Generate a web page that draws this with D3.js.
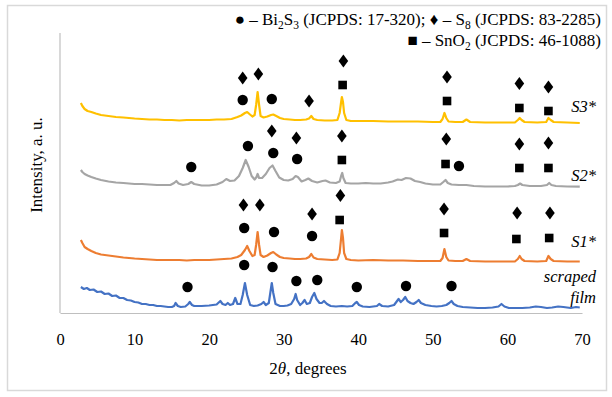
<!DOCTYPE html>
<html>
<head>
<meta charset="utf-8">
<script src="https://cdn.jsdelivr.net/npm/d3@7"></script>
<style>
  body { margin: 0; background: #fff; }
  svg text { font-family: "Liberation Serif", "Times New Roman", serif; fill: #000; }
</style>
</head>
<body>
<div id="graphicContainer"></div>
<script>

// XRD patterns, [2theta (deg), intensity (a.u.)]
const scrapedFilm = [[2.8,26],[3.2,24],[3.6,25],[4,23],[4.5,23.5],[5,21],[5.5,21.5],[6,19],[6.5,19.5],[7,17],[7.5,17.5],[8,15],[8.5,15],[9,13],[9.5,12.5],[10,11],[10.5,10.5],[11,9],[11.5,9],[12,8],[12.5,8],[13,7],[13.5,7],[14,6.5],[14.5,6],[15,6],[15.3,7],[15.5,10],[15.8,7],[16.2,6],[16.8,6.5],[17.2,9],[17.4,11],[17.7,8],[18,7],[19,7],[20,7.5],[20.5,8],[21,8.5],[21.5,12],[21.8,9],[22.2,8],[22.5,10],[22.8,8],[23.2,9],[23.5,15],[23.8,9],[24.2,9],[24.5,18],[24.8,30],[25.1,18],[25.5,8],[26,7],[26.5,7.5],[27,9],[27.3,11],[27.6,8],[28,10],[28.2,20],[28.4,30],[28.6,20],[28.9,9],[29.5,7],[30,7],[30.5,7.5],[31,9],[31.4,14],[31.6,19],[31.8,13],[32.2,8],[32.5,10],[32.8,13],[33.1,9],[33.5,10],[33.8,16],[34.1,20],[34.4,14],[34.8,10],[35.1,10],[35.4,12],[35.8,9],[36.3,7],[37,6.5],[37.8,7],[38.5,6.5],[39.2,7],[39.6,10],[39.8,11],[40.1,8],[40.6,6.5],[41.5,6],[42.5,7],[42.8,9],[43.2,7],[44,6.5],[44.8,8],[45.2,12],[45.4,14],[45.7,11],[46,13],[46.3,16],[46.6,12],[47,10],[47.4,9],[47.8,11],[48.1,13],[48.4,10],[49,8],[49.8,7],[50.5,6.5],[51.2,7],[51.8,8],[52.2,10],[52.5,12],[52.8,9],[53.3,7],[54,6],[55,5.5],[56,5],[57,5],[58,5.5],[58.8,6.5],[59.2,9],[59.6,6.5],[60.2,5],[61,5],[62,5],[63,5.5],[63.8,6.5],[64.5,6],[65.3,5],[66,5.5],[66.8,6.5],[67.5,6],[68.5,5],[69.2,6],[69.7,5.5]]

const sampleS1 = [[2.8,73],[3.0,70],[3.3,66],[3.7,64],[4.2,62],[4.8,60],[5.5,58.5],[6.5,57.5],[7.5,56.5],[8.5,55.5],[10,54.5],[11,54],[12,53.5],[13,53],[14,53],[15,53],[16,53],[17,52.5],[18,53],[19,53],[20,53],[21,53.5],[22,54],[23,54.5],[23.8,56],[24.3,58],[24.8,63],[25.1,67],[25.4,62],[25.8,57],[26.1,58],[26.3,68],[26.5,81],[26.7,68],[26.9,58],[27.3,56],[27.8,57.5],[28.3,60],[28.6,61],[29,58.5],[29.5,56],[30,55],[30.8,54.5],[31.5,54],[32.2,54],[33,54.5],[33.4,56],[33.7,59],[34,55.5],[34.5,54],[35.5,53.5],[36.5,53],[37.2,53.5],[37.5,60],[37.7,75],[37.8,83],[37.95,75],[38.1,60],[38.4,54],[39,53],[40,52.5],[42,53],[44,52.5],[46,52.5],[48,52],[50,52],[51,52],[51.3,55],[51.55,64],[51.8,56],[52.1,52.5],[53,52],[54,52],[54.5,54],[55,52],[57,51.5],[59,51.5],[61,51.5],[61.4,54],[61.65,57],[61.9,54],[62.3,52],[64,51.5],[65.2,52],[65.5,57],[65.8,54],[66.2,52],[68,51.5],[69.7,51.5]]

const sampleS2 = [[2.8,143],[3.0,141],[3.3,139],[3.7,137.5],[4.2,136],[4.8,134.5],[5.5,133],[6.5,131.5],[7.5,130.5],[8.5,130],[10,129],[11,129],[12,128.5],[13,128],[14,128],[14.8,128],[15.3,130],[15.6,132],[15.9,129.5],[16.5,128],[17.2,129],[17.6,131],[18,129],[19,127.5],[20,127.5],[21,128.5],[21.8,131],[22.3,134],[22.8,132],[23.4,132.5],[24,137],[24.5,145],[24.9,153],[25.3,146],[25.7,137],[26.1,133.5],[26.35,136],[26.5,139],[26.7,135],[27.1,135],[27.6,139],[28.1,145],[28.5,147.5],[28.9,142],[29.4,135.5],[30,133],[30.6,132.5],[31.2,134],[31.6,137],[31.9,136],[32.4,131.5],[32.9,133],[33.3,134.5],[33.8,132],[34.5,130.5],[35.2,132],[35.6,132.5],[36.2,130.5],[37,130],[37.5,131.5],[37.7,137],[37.85,140],[38,135],[38.3,130],[39,129.5],[40,129.5],[41,130],[42,129.5],[43,129.5],[44,130.5],[44.6,131.5],[45.3,133.5],[45.8,133],[46.4,135],[47,134.5],[47.6,132],[48.3,131],[49,129.5],[50,128.5],[51,128.5],[51.4,131],[51.7,133],[52,130],[52.5,128.5],[53.5,128],[54.5,128],[55.5,127],[57,126.5],[58.5,126.5],[60,126.5],[61,127],[61.4,128],[61.7,129.5],[62,128],[63,127],[64.5,127],[65.3,128],[65.6,130],[65.9,128],[66.5,127],[68,126.5],[69.7,126.3]]

const sampleS3 = [[2.8,210],[3.0,207],[3.3,204],[3.7,202],[4.2,201],[4.8,199.5],[5.5,198],[6.5,197],[7.5,196],[8.5,195.5],[10,194.5],[11,194],[12,193.5],[13,193.5],[14,193],[15,193],[16,192.5],[17,193],[18,193],[19,193],[20,193],[21,193.5],[22,193.5],[23,194],[23.8,196],[24.3,197.5],[24.8,200],[25.1,201],[25.4,199],[25.8,196.5],[26.1,198],[26.3,208],[26.5,221],[26.7,208],[26.9,197],[27.3,195.5],[27.8,196.5],[28.3,198],[28.6,198.5],[29,197],[29.5,195],[30,194],[30.8,193.5],[31.5,193],[32.2,193],[33,193.5],[33.4,194.5],[33.7,197],[34,194],[34.5,193],[35.5,192.5],[36.5,192.5],[37.2,193],[37.5,200],[37.7,211],[37.8,216],[37.95,211],[38.1,200],[38.4,193],[39,192],[40,192],[42,192],[44,191.5],[46,191.5],[48,191.5],[50,191],[51,191],[51.3,194],[51.55,200],[51.8,195],[52.1,191.5],[53,191],[54,191],[54.5,193.5],[55,191],[57,190.5],[59,190.5],[61,190.5],[61.4,193],[61.65,195],[61.9,193],[62.3,191],[64,190.5],[65.2,191],[65.5,195],[65.8,193],[66.2,191],[68,190.5],[69.7,190]]

// phase markers, [2theta, height (a.u.)]
const bi2s3Marks = [[24.5,213],[28.4,214],[17.6,146],[25.2,167],[28.6,160],[31.8,154],[53.5,147],[24.7,85],[28.7,81],[33.8,77],[17.1,26],[24.7,48],[28.5,46],[31.7,32],[34.5,33],[39.8,26],[46.4,27],[52.5,27]]
const s8Marks = [[24.5,235],[26.6,239],[33.4,212],[38.0,252],[51.9,236],[61.6,229.5],[65.5,226],[28.4,182],[31.7,175],[37.8,177],[51.8,174],[61.6,169],[65.5,170],[24.6,108],[26.8,108],[33.8,99],[37.6,117.5],[51.5,104],[61.3,100],[65.7,100]]
const sno2Marks = [[37.9,228],[51.9,212],[61.6,205],[65.5,202],[37.8,153],[51.7,149],[61.6,145],[65.5,145],[37.5,93],[51.5,80],[61.2,74],[65.6,75]]

const xTickValues = [0, 10, 20, 30, 40, 50, 60, 70]

const seriesList = [
  { name: "scraped film", values: scrapedFilm, color: "#4472c4" },
  { name: "S1*", values: sampleS1, color: "#ed7d31" },
  { name: "S2*", values: sampleS2, color: "#a5a5a5" },
  { name: "S3*", values: sampleS3, color: "#ffc000" }
]

const svgWidth = 612
const svgHeight = 397
const marginleft = 60
const marginright = 30
const margintop = 33
const marginbottom = 84

const svg = d3.select("#graphicContainer")
  .append("svg")
  .attr("width", svgWidth)
  .attr("height", svgHeight)

// outer frame
svg.append("rect")
  .attr("x", 7.5)
  .attr("y", 5.5)
  .attr("width", 599)
  .attr("height", 385)
  .attr("fill", "none")
  .attr("stroke", "#d9d9d9")
  .attr("stroke-width", 1.5)

const x = d3.scaleLinear()
  .domain([0, 70])
  .range([marginleft, svgWidth - marginright])

const y = d3.scaleLinear()
  .domain([0, 280])
  .range([svgHeight - marginbottom, margintop])

const xAxis = g => g
  .attr("transform", `translate(0,${svgHeight - marginbottom})`)
  .call(d3.axisBottom(x).tickValues(xTickValues).tickSize(0).tickPadding(20).tickFormat(d3.format("d")))
  .call(g => g.select(".domain").attr("stroke", "#bfbfbf").attr("stroke-width", 1.2))
  .call(g => g.selectAll("text").attr("font-size", 16.5).attr("font-family", "Liberation Serif"))

svg.append("g").call(xAxis)

svg.append("line")
  .attr("x1", x(0))
  .attr("x2", x(0))
  .attr("y1", y(280))
  .attr("y2", y(0))
  .attr("stroke", "#bfbfbf")
  .attr("stroke-width", 1.2)

const line = d3.line()
  .x(d => x(d[0]))
  .y(d => y(d[1]))

svg.selectAll(".xrd")
  .data(seriesList)
  .enter()
  .append("path")
  .attr("class", "xrd")
  .attr("d", d => line(d.values))
  .attr("fill", "none")
  .attr("stroke", d => d.color)
  .attr("stroke-width", 2.2)
  .attr("stroke-linejoin", "round")

// markers
svg.selectAll(".bi2s3")
  .data(bi2s3Marks)
  .enter()
  .append("circle")
  .attr("cx", d => x(d[0]))
  .attr("cy", d => y(d[1]))
  .attr("r", 5.2)
  .attr("fill", "#000")

svg.selectAll(".s8")
  .data(s8Marks)
  .enter()
  .append("path")
  .attr("transform", d => `translate(${x(d[0])},${y(d[1])})`)
  .attr("d", "M0,-6.5L4.8,0L0,6.5L-4.8,0Z")
  .attr("fill", "#000")

svg.selectAll(".sno2")
  .data(sno2Marks)
  .enter()
  .append("rect")
  .attr("x", d => x(d[0]) - 4.3)
  .attr("y", d => y(d[1]) - 4.3)
  .attr("width", 8.6)
  .attr("height", 8.6)
  .attr("fill", "#000")

// series labels
const seriesLabels = [
  { text: "S3*", y: 112 },
  { text: "S2*", y: 181 },
  { text: "S1*", y: 247 },
  { text: "scraped", y: 282 },
  { text: "film", y: 303 }
]

svg.selectAll(".seriesLabel")
  .data(seriesLabels)
  .enter()
  .append("text")
  .attr("x", 596)
  .attr("y", d => d.y)
  .attr("text-anchor", "end")
  .attr("font-size", 16.5)
  .attr("font-style", "italic")
  .text(d => d.text)

// legend
const legend1 = svg.append("text")
  .attr("x", 601)
  .attr("y", 25)
  .attr("text-anchor", "end")
  .attr("font-size", 17)

legend1.append("tspan").text("● – Bi")
legend1.append("tspan").attr("font-size", 11.5).attr("dy", 4).text("2")
legend1.append("tspan").attr("dy", -4).text("S")
legend1.append("tspan").attr("font-size", 11.5).attr("dy", 4).text("3")
legend1.append("tspan").attr("dy", -4).text(" (JCPDS: 17-320); ♦ – S")
legend1.append("tspan").attr("font-size", 11.5).attr("dy", 4).text("8")
legend1.append("tspan").attr("dy", -4).text(" (JCPDS: 83-2285)")

const legend2 = svg.append("text")
  .attr("x", 601)
  .attr("y", 46)
  .attr("text-anchor", "end")
  .attr("font-size", 17)

legend2.append("tspan").text("■ – SnO")
legend2.append("tspan").attr("font-size", 11.5).attr("dy", 4).text("2")
legend2.append("tspan").attr("dy", -4).text(" (JCPDS: 46-1088)")

// axis titles
const xTitle = svg.append("text")
  .attr("x", 308)
  .attr("y", 374)
  .attr("text-anchor", "middle")
  .attr("font-size", 17)

xTitle.append("tspan").text("2")
xTitle.append("tspan").attr("font-style", "italic").text("θ")
xTitle.append("tspan").text(", degrees")

svg.append("text")
  .attr("transform", "translate(42,165) rotate(-90)")
  .attr("text-anchor", "middle")
  .attr("font-size", 17)
  .text("Intensity, a. u.")

</script>
</body>
</html>
